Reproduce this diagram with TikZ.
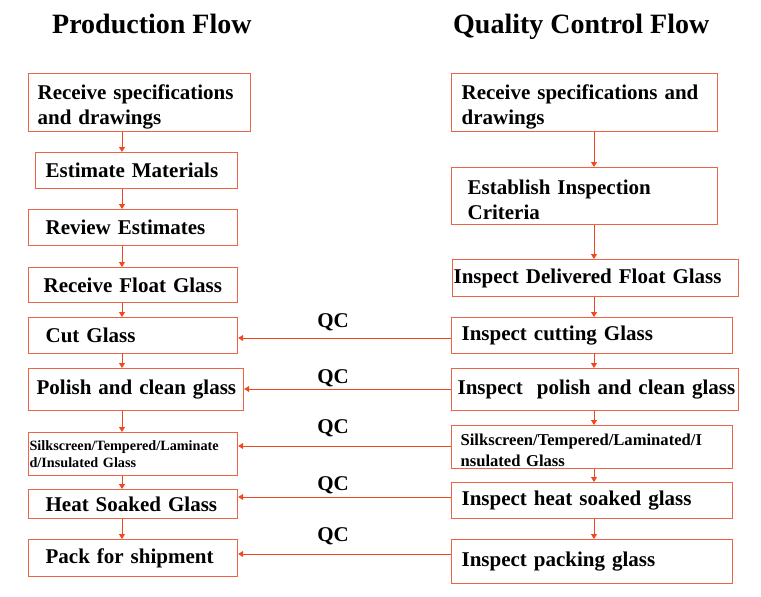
\documentclass[tikz,border=0pt]{standalone}
\usepackage{fontspec}
\setmainfont{Liberation Serif}
\usetikzlibrary{arrows.meta}
\definecolor{boxline}{RGB}{236,100,70}
\definecolor{flowline}{RGB}{240,72,30}

\begin{document}
\begin{tikzpicture}[
        x=1pt,
        y=-1pt,
        stepbox/.style={draw=boxline, line width=1.2pt, anchor=north west, align=left, inner ysep=0pt,
            font=\bfseries\fontsize{21}{25}\selectfont},
        smallbox/.style={stepbox, font=\bfseries\fontsize{14.2}{17}\selectfont},
        flow/.style={draw=flowline, line width=0.9pt, -{Triangle[length=5pt,width=6pt]}},
        heading/.style={anchor=base west, inner sep=0pt, font=\bfseries\fontsize{28}{32}\selectfont},
        qc/.style={inner sep=0pt, font=\bfseries\fontsize{21}{24}\selectfont}
    ]
        \useasboundingbox (0,0) rectangle (761,597);

        \node[heading] (prodtitle) at (52,33) {Production Flow};
        \node[heading] (qctitle) at (453,33) {Quality Control Flow};

        % production column
        \node[stepbox, text width=204, minimum height=58, inner xsep=9] (l1) at (28,73) {\rule{0pt}{23pt}Receive specifications\\and drawings};
        \node[stepbox, text width=182, minimum height=36, inner xsep=10] (l2) at (35,152) {Estimate Materials};
        \node[stepbox, text width=175, minimum height=36, inner xsep=17] (l3) at (28,209) {Review Estimates};
        \node[stepbox, text width=179, minimum height=35, inner xsep=15] (l4) at (28,267) {\mbox{Receive Float Glass}};
        \node[stepbox, text width=175, minimum height=36, inner xsep=17] (l5) at (28,317) {Cut Glass};
        \node[stepbox, text width=199, minimum height=42, inner xsep=8] (l6) at (28,368) {\mbox{Polish and clean glass}};
        \node[smallbox, text width=207, minimum height=43, inner xsep=1] (l7) at (28,432) {Silkscreen/Tempered/Laminate\\d/Insulated Glass};
        \node[stepbox, text width=175, minimum height=29, inner xsep=17] (l8) at (28,489) {Heat Soaked Glass};
        \node[stepbox, text width=175, minimum height=37, inner xsep=17] (l9) at (28,539) {Pack for shipment};

        % quality control column
        \node[stepbox, text width=246, minimum height=58, inner xsep=10] (r1) at (451,73) {\rule{0pt}{23pt}Receive specifications and\\drawings};
        \node[stepbox, text width=234, minimum height=57, inner xsep=16] (r2) at (451,167) {\rule{0pt}{23pt}Establish Inspection\\Criteria};
        \node[stepbox, text width=284, minimum height=37, inner xsep=1] (r3) at (452,259) {Inspect Delivered Float Glass};
        \node[stepbox, text width=261, minimum height=36, inner xsep=10] (r4) at (451,317) {Inspect cutting Glass};
        \node[stepbox, text width=275, minimum height=42, inner xsep=6] (r5) at (451,368) {\mbox{Inspect\ \ polish and clean glass}};
        \node[smallbox, text width=263, minimum height=43, inner xsep=9,
            font=\bfseries\fontsize{16.6}{21}\selectfont] (r6) at (451,425) {\rule{0pt}{18pt}Silkscreen/Tempered/Laminated/I\\nsulated Glass};
        \node[stepbox, text width=261, minimum height=36, inner xsep=10] (r7) at (451,482) {Inspect heat soaked glass};
        \node[stepbox, text width=261, minimum height=44, inner xsep=10] (r8) at (451,539) {Inspect packing glass};

        \coordinate (lx) at (122,0);
        \coordinate (rx) at (594,0);
        \foreach \a/\b in {l1/l2,l2/l3,l3/l4,l4/l5,l5/l6,l6/l7,l7/l8,l8/l9}{
            \draw[flow] (\a.south -| lx) -- (\b.north -| lx);
        }
        \foreach \a/\b in {r1/r2,r2/r3,r3/r4,r4/r5,r5/r6,r6/r7,r7/r8}{
            \draw[flow] (\a.south -| rx) -- (\b.north -| rx);
        }

        % QC feedback
        \foreach \r/\l/\y/\q in {r4/l5/338/322,r5/l6/389/378,r6/l7/446/428,r7/l8/497/485,r8/l9/554/536}{
            \draw[flow] (\r.west |- 0,\y) -- (\l.east |- 0,\y);
            \node[qc] (qc\l) at (333,\q) {QC};
        }
    \end{tikzpicture}
\end{document}
